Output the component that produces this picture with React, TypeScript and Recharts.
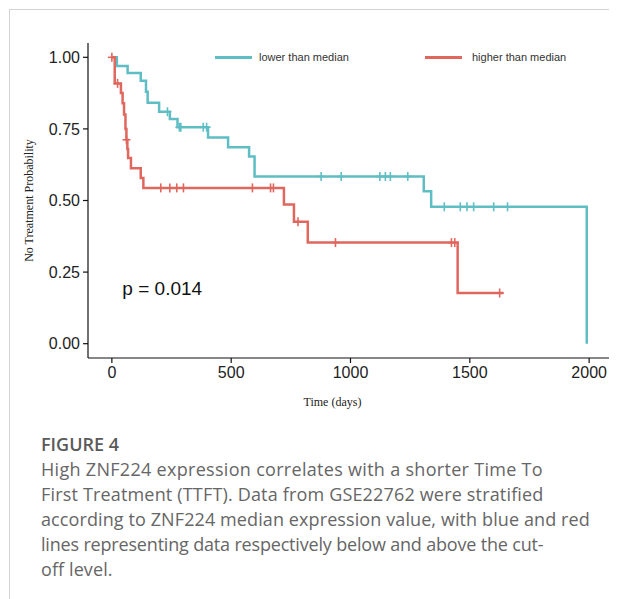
import {
  ComposedChart,
  Line,
  Scatter,
  XAxis,
  YAxis,
  Legend,
  ReferenceDot,
} from "recharts";

// Kaplan-Meier steps: time (days) and survival after the step
const lowTimes = [0, 21, 66, 121, 143, 150, 198, 243, 275, 403, 487, 575, 598, 1307, 1338, 1990];
const lowSurv = [1, 0.97, 0.945, 0.918, 0.88, 0.841, 0.81, 0.785, 0.756, 0.72, 0.686, 0.654, 0.584, 0.532, 0.478, 0];
const lowCensor = [233, 283, 289, 383, 397, 877, 961, 1123, 1146, 1167, 1240, 1393, 1460, 1488, 1516, 1600, 1658];

const highTimes = [0, 12, 38, 45, 51, 57, 61, 65, 68, 80, 121, 132, 721, 763, 821, 1449, 1641];
const highSurv = [1, 0.909, 0.875, 0.84, 0.8, 0.75, 0.712, 0.68, 0.648, 0.613, 0.579, 0.544, 0.486, 0.426, 0.353, 0.177, 0.177];
const highCensor = [0, 24, 61, 205, 243, 272, 300, 589, 665, 677, 780, 937, 1423, 1437, 1625];

const xTicks = [0, 500, 1000, 1500, 2000];
const yTicks = [0, 0.25, 0.5, 0.75, 1];

const TEAL = "#5fbdc4";
const RED = "#e0675e";

const toSteps = (times: number[], surv: number[]) =>
  times.map((t, i) => ({ t, s: surv[i] }));

const survAt = (times: number[], surv: number[], t: number) => {
  let v = surv[0];
  times.forEach((tt, i) => {
    if (tt <= t) v = surv[i];
  });
  return v;
};

const lowData = toSteps(lowTimes, lowSurv);
const highData = toSteps(highTimes, highSurv);
const lowMarks = lowCensor.map((t) => ({ t, s: survAt(lowTimes, lowSurv, t) }));
const highMarks = highCensor.map((t) => ({ t, s: survAt(highTimes, highSurv, t) }));

const cross = (color: string) => (props: any) => {
  const { cx, cy } = props;
  return (
    <g stroke={color} strokeWidth={1.6}>
      <line x1={cx} y1={cy - 4.5} x2={cx} y2={cy + 4.5} />
      <line x1={cx - 4} y1={cy} x2={cx + 4} y2={cy} />
    </g>
  );
};

const legendContent = () => (
  <div
    style={{
      display: "flex",
      alignItems: "center",
      fontFamily: "'Liberation Sans', Arial, sans-serif",
      fontSize: 11,
      color: "#333",
    }}
  >
    <span style={{ width: 37, height: 3, background: TEAL, display: "inline-block" }} />
    <span style={{ marginLeft: 7, width: 166 }}>lower than median</span>
    <span style={{ width: 37, height: 3, background: RED, display: "inline-block" }} />
    <span style={{ marginLeft: 10 }}>higher than median</span>
  </div>
);

const tickStyle = {
  fill: "#222",
  fontSize: 16,
  fontFamily: "'Liberation Sans', Arial, sans-serif",
};

const captionLines = [
  "High ZNF224 expression correlates with a shorter Time To",
  "First Treatment (TTFT). Data from GSE22762 were stratified",
  "according to ZNF224 median expression value, with blue and red",
  "lines representing data respectively below and above the cut-",
  "off level.",
];
const captionSpacing = [0.3, 0.17, 0.1, -0.18, 0.1];

export default function App() {
  return (
    <div style={{ position: "relative", width: 609, height: 591 }}>
      <div
        style={{
          position: "absolute",
          left: 1,
          top: 1,
          right: 0,
          bottom: 0,
          borderTop: "1px solid #d4d4d4",
          borderLeft: "1px solid #d4d4d4",
        }}
      />
      <div style={{ position: "absolute", left: 1, top: 1 }}>
        <ComposedChart
          width={608}
          height={420}
          margin={{ top: 34, right: 4, bottom: 15, left: 0 }}
        >
          <XAxis
            dataKey="t"
            type="number"
            domain={[-100, 2100]}
            ticks={xTicks}
            allowDataOverflow
            height={56}
            stroke="#111"
            strokeWidth={1.2}
            tickSize={5}
            tickMargin={4}
            tick={tickStyle}
            label={{
              value: "Time (days)",
              position: "insideBottom",
              offset: 8,
              dx: -18,
              style: { fill: "#222", fontSize: 12, fontFamily: "'Liberation Serif', 'Times New Roman', serif" },
            }}
          />
          <YAxis
            type="number"
            domain={[-0.05, 1.05]}
            ticks={yTicks}
            allowDataOverflow
            width={79}
            stroke="#111"
            strokeWidth={1.2}
            tickSize={5}
            tickMargin={3}
            tick={tickStyle}
            tickFormatter={(v: number) => v.toFixed(2)}
            label={{
              value: "No Treatment Probability",
              position: "center",
              angle: -90,
              dx: -20,
              style: { fill: "#222", fontSize: 12, fontFamily: "'Liberation Serif', 'Times New Roman', serif" },
            }}
          />
          <Legend
            layout="horizontal"
            verticalAlign="middle"
            align="center"
            content={legendContent}
            wrapperStyle={{ top: 42, left: 206, width: 400 }}
          />
          <Line
            data={lowData}
            dataKey="s"
            type="stepAfter"
            stroke={TEAL}
            strokeWidth={2.5}
            dot={false}
            activeDot={false}
            isAnimationActive={false}
          />
          <Line
            data={highData}
            dataKey="s"
            type="stepAfter"
            stroke={RED}
            strokeWidth={2.5}
            dot={false}
            activeDot={false}
            isAnimationActive={false}
          />
          <Scatter data={lowMarks} dataKey="s" shape={cross(TEAL)} isAnimationActive={false} />
          <Scatter data={highMarks} dataKey="s" shape={cross(RED)} isAnimationActive={false} />
          <ReferenceDot
            x={44}
            y={0.195}
            r={0}
            fill="none"
            stroke="none"
            label={{
              value: "p = 0.014",
              position: "right",
              offset: 0,
              style: { fill: "#111", fontSize: 19, fontFamily: "'Liberation Sans', Arial, sans-serif" },
            }}
          />
        </ComposedChart>
      </div>
      <div
        style={{
          position: "absolute",
          left: 33,
          top: 424,
          fontFamily: "'Open Sans', sans-serif",
          color: "#666",
          whiteSpace: "nowrap",
        }}
      >
        <div style={{ fontSize: 18, fontWeight: 600, color: "#5a5a5a", lineHeight: "25px" }}>
          FIGURE 4
        </div>
        {captionLines.map((line, i) => (
          <div
            key={i}
            style={{
              fontSize: 18,
              lineHeight: "25px",
              letterSpacing: captionSpacing[i],
            }}
          >
            {line}
          </div>
        ))}
      </div>
    </div>
  );
}
